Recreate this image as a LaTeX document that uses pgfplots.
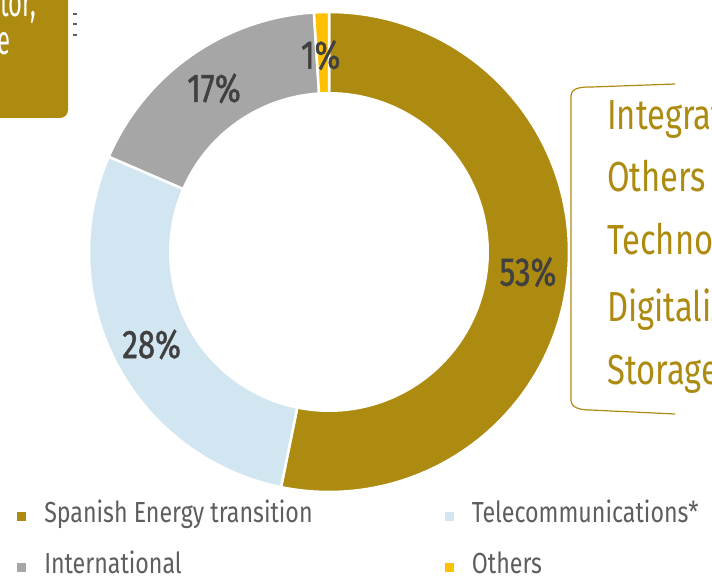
\documentclass[border=0pt]{standalone}
\usepackage{fontspec}
\setmainfont{Fira Sans}[FakeStretch=0.78]
\newfontfamily\labfont{Fira Sans}[FakeStretch=0.78, FakeBold=1.2]
\newfontfamily\legfont{Fira Sans}[FakeStretch=0.80]
\newfontfamily\boxfont{Fira Sans}[FakeStretch=0.58]
\usepackage{pgfplots}
\pgfplotsset{compat=1.18}
\usepackage{pgfplotstable}
\definecolor{cGold}{HTML}{AD8B11}
\definecolor{cBlue}{HTML}{D2E6F2}
\definecolor{cGray}{HTML}{A6A6A6}
\definecolor{cYel}{HTML}{FFC000}
\definecolor{cText}{HTML}{404040}
\definecolor{cLeg}{HTML}{5E5E5E}

\pgfplotstableread{
label value
Spanish 53.2
Telecom 28.3
International 17.5
Others 1.0
}\shares

\pgfplotstablegetelem{0}{value}\of\shares \let\vA\pgfplotsretval
\pgfplotstablegetelem{1}{value}\of\shares \let\vB\pgfplotsretval
\pgfplotstablegetelem{2}{value}\of\shares \let\vC\pgfplotsretval
\pgfplotstablegetelem{3}{value}\of\shares \let\vD\pgfplotsretval

\pgfmathsetmacro\aA{90}
\pgfmathsetmacro\aB{\aA-3.6*\vA}
\pgfmathsetmacro\aC{\aB-3.6*\vB}
\pgfmathsetmacro\aD{\aC-3.6*\vC}
\pgfmathsetmacro\aE{\aD-3.6*\vD}
\pgfmathsetmacro\mA{(\aA+\aB)/2}
\pgfmathsetmacro\mB{(\aB+\aC)/2}
\pgfmathsetmacro\mC{(\aC+\aD)/2}
\pgfmathsetmacro\mD{(\aD+\aE)/2}

\def\cx{329}
\def\cy{328}
\def\Ro{240}
\def\Ri{160}
\def\Rl{200}

\begin{document}
\begin{tikzpicture}
\path[use as bounding box] (0,0) rectangle (712pt,580pt);
\clip (0,0) rectangle (712pt,580pt);
\begin{axis}[at={(0pt,0pt)}, anchor=south west, scale only axis,
  width=712pt, height=580pt, xmin=0, xmax=712, ymin=0, ymax=580,
  hide axis, clip=false,
  legend columns=2, legend cell align=left,
  legend image code/.code={\path[draw=none, fill=none] (0pt,-5pt) rectangle (28pt,5pt); \fill[#1] (0pt,-10pt) rectangle (11pt,1pt);},
  legend style={draw=none, fill=none, at={(axis cs:15,80)}, anchor=north west,
    inner sep=0pt, outer sep=0pt,
    nodes={inner sep=0pt, outer sep=0pt},
    font=\legfont\fontsize{29}{32}\selectfont, text=cLeg, row sep=27pt, column sep=0pt,
    /tikz/every even column/.append style={column sep=130pt}},
]
% slices
\addplot[fill=cGold, draw=white, line width=2.5pt, domain=\aB:\aA, samples=120, variable=\t]
  ({\cx+\Ro*cos(t)},{\cy+\Ro*sin(t)}) -- (axis cs:\cx,\cy) -- cycle;
\addplot[fill=cBlue, draw=white, line width=2.5pt, domain=\aC:\aB, samples=80, variable=\t]
  ({\cx+\Ro*cos(t)},{\cy+\Ro*sin(t)}) -- (axis cs:\cx,\cy) -- cycle;
\addplot[fill=cGray, draw=white, line width=2.5pt, domain=\aD:\aC, samples=60, variable=\t]
  ({\cx+\Ro*cos(t)},{\cy+\Ro*sin(t)}) -- (axis cs:\cx,\cy) -- cycle;
\addplot[fill=cYel, draw=white, line width=2.5pt, domain=\aE:\aD, samples=10, variable=\t]
  ({\cx+\Ro*cos(t)},{\cy+\Ro*sin(t)}) -- (axis cs:\cx,\cy) -- cycle;
% hole
\addplot[fill=white, draw=none, domain=0:360, samples=200, variable=\t]
  ({\cx+\Ri*cos(t)},{\cy+\Ri*sin(t)}) -- cycle;

% labels
\node[text=cText, font=\labfont\fontsize{40}{40}\selectfont] at (axis cs:{\cx+\Rl*cos(\mA)},{\cy+\Rl*sin(\mA)}) {53\%};
\node[text=cText, font=\labfont\fontsize{40}{40}\selectfont] at (axis cs:{\cx+\Rl*cos(\mB)},{\cy+\Rl*sin(\mB)}) {28\%};
\node[text=cText, font=\labfont\fontsize{40}{40}\selectfont] at (axis cs:{\cx+\Rl*cos(\mC)},{\cy+\Rl*sin(\mC)}) {17\%};
\node[text=cText, font=\labfont\fontsize{40}{40}\selectfont] at (axis cs:{\cx+\Rl*cos(\mD)-2},{\cy+\Rl*sin(\mD)-3}) {1\%};

% top-left box (cropped)
\fill[cGold, rounded corners=8pt] (axis cs:-30,462) rectangle (axis cs:68,610);
\node[text=white, font=\boxfont\fontsize{41}{41}\selectfont, anchor=base east, inner sep=0pt] at (axis cs:36,563) {ctor,};
\node[text=white, font=\boxfont\fontsize{41}{41}\selectfont, anchor=base east, inner sep=0pt] at (axis cs:11,525) {e};
\draw[cLeg, line width=1.5pt] (axis cs:73,566) -- (axis cs:77,566);
\draw[cLeg, line width=1.5pt] (axis cs:73,556) -- (axis cs:77,556);
\draw[cLeg, line width=1.5pt] (axis cs:73,545) -- (axis cs:77,545);

% right bracket
\draw[cGold, line width=1.2pt] (axis cs:675,496) -- (axis cs:592,493) to[out=180,in=90] (axis cs:571,484)
  -- (axis cs:571,180) to[out=-90,in=180] (axis cs:590,170) -- (axis cs:675,166);
\node[text=cGold, font=\fontsize{42}{42}\selectfont, anchor=base west, inner sep=0pt] at (axis cs:607,450) {Integration};
\node[text=cGold, font=\fontsize{42}{42}\selectfont, anchor=base west, inner sep=0pt] at (axis cs:607,388) {Others};
\node[text=cGold, font=\fontsize{42}{42}\selectfont, anchor=base west, inner sep=0pt] at (axis cs:607,325) {Technology};
\node[text=cGold, font=\fontsize{42}{42}\selectfont, anchor=base west, inner sep=0pt] at (axis cs:607,258) {Digitalization};
\node[text=cGold, font=\fontsize{42}{42}\selectfont, anchor=base west, inner sep=0pt] at (axis cs:607,195) {Storage};

% legend
\addlegendimage{cGold}\addlegendentry{Spanish Energy transition}
\addlegendimage{cBlue}\addlegendentry{Telecommunications*}
\addlegendimage{cGray}\addlegendentry{International}
\addlegendimage{cYel}\addlegendentry{Others}
\end{axis}
\end{tikzpicture}
\end{document}
